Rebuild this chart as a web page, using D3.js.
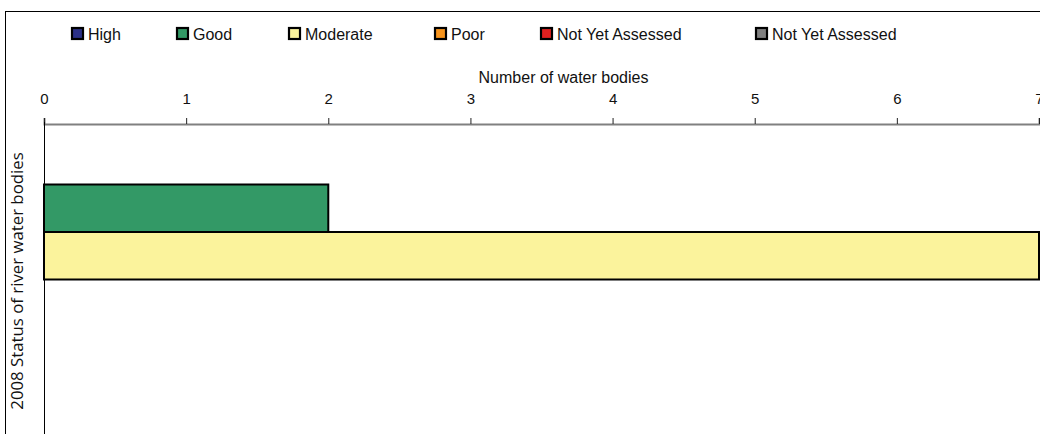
<!DOCTYPE html>
<html>
<head>
<meta charset="utf-8">
<script src="https://cdn.jsdelivr.net/npm/d3@7"></script>
<style>
  body { margin: 0; background: #fff; }
  svg { display: block; }
</style>
</head>
<body>
<div id="chart"></div>
<script>
// Dados
const series = ["High", "Good", "Moderate", "Poor", "Not Yet Assessed", "Not Yet Assessed "];
const values = [0, 2, 7, 0, 0, 0];
const colors = ["#2b3087", "#339966", "#fbf39c", "#f7941d", "#e0201f", "#808080"];
const ticks = [0, 1, 2, 3, 4, 5, 6, 7];
const category = "2008 Status of river water bodies";

const W = 1040, H = 434;
const margin = { top: 124, left: 44, right: 1, bottom: 0 };

const svg = d3.select("#chart")
    .append("svg")
    .attr("width", W)
    .attr("height", H);

// Moldura
svg.append("rect")
    .attr("x", 5.5).attr("y", 11.5)
    .attr("width", 1100).attr("height", 500)
    .attr("fill", "none")
    .attr("stroke", "#000")
    .attr("stroke-width", 1);

// Escalas
const x = d3.scaleLinear()
    .domain([0, 7])
    .range([margin.left, W - margin.right]);

const y = d3.scaleBand()
    .domain(series)
    .range([137, 422])
    .padding(0);

// Eixo X (topo)
const xAxis = svg.append("g")
    .attr("transform", `translate(0,${margin.top})`)
    .call(d3.axisTop(x).tickValues(ticks).tickFormat(d3.format("d")).tickSize(6).tickPadding(14));
xAxis.select(".domain").attr("stroke", "#808080").attr("stroke-width", 2);
xAxis.selectAll(".tick line").attr("stroke", "#222");
xAxis.selectAll(".tick text")
    .attr("font-family", "Liberation Sans, Arial, sans-serif")
    .attr("font-size", "15px")
    .attr("fill", "#111");

svg.append("text")
    .attr("x", (x(0) + x(7)) / 2 + 22)
    .attr("y", 83)
    .attr("text-anchor", "middle")
    .attr("font-family", "Liberation Sans, Arial, sans-serif")
    .attr("font-size", "16px")
    .attr("fill", "#111")
    .text("Number of water bodies");

// Eixo Y
svg.append("line")
    .attr("x1", x(0) + 0.5).attr("x2", x(0) + 0.5)
    .attr("y1", margin.top - 2).attr("y2", H)
    .attr("stroke", "#000").attr("stroke-width", 1);

svg.append("text")
    .attr("transform", `translate(23,${281}) rotate(-90)`)
    .attr("text-anchor", "middle")
    .attr("font-family", "Open Sans, Noto Sans, sans-serif")
    .attr("font-size", "16.8px")
    .attr("fill", "#111")
    .text(category);

// Barras
const data = series.map((s, i) => ({ name: s, value: values[i], color: colors[i] }));
svg.selectAll(".bar")
    .data(data.filter(d => d.value > 0))
    .enter()
    .append("rect")
    .attr("class", "bar")
    .attr("x", x(0))
    .attr("y", d => y(d.name))
    .attr("width", d => x(d.value) - x(0))
    .attr("height", y.bandwidth())
    .attr("fill", d => d.color)
    .attr("stroke", "#000")
    .attr("stroke-width", 2);

// Legenda
const legendX = [72, 177, 289, 435, 541, 756];
const legend = svg.selectAll(".legend")
    .data(data)
    .enter()
    .append("g")
    .attr("class", "legend")
    .attr("transform", (d, i) => `translate(${legendX[i]},28)`);

legend.append("rect")
    .attr("x", 0).attr("y", 0)
    .attr("width", 11).attr("height", 11)
    .attr("fill", d => d.color)
    .attr("stroke", "#000")
    .attr("stroke-width", 2.2);

legend.append("text")
    .attr("x", 16)
    .attr("y", 12)
    .attr("font-family", "Liberation Sans, Arial, sans-serif")
    .attr("font-size", "16px")
    .attr("fill", "#111")
    .text(d => d.name.trim());
</script>
</body>
</html>
